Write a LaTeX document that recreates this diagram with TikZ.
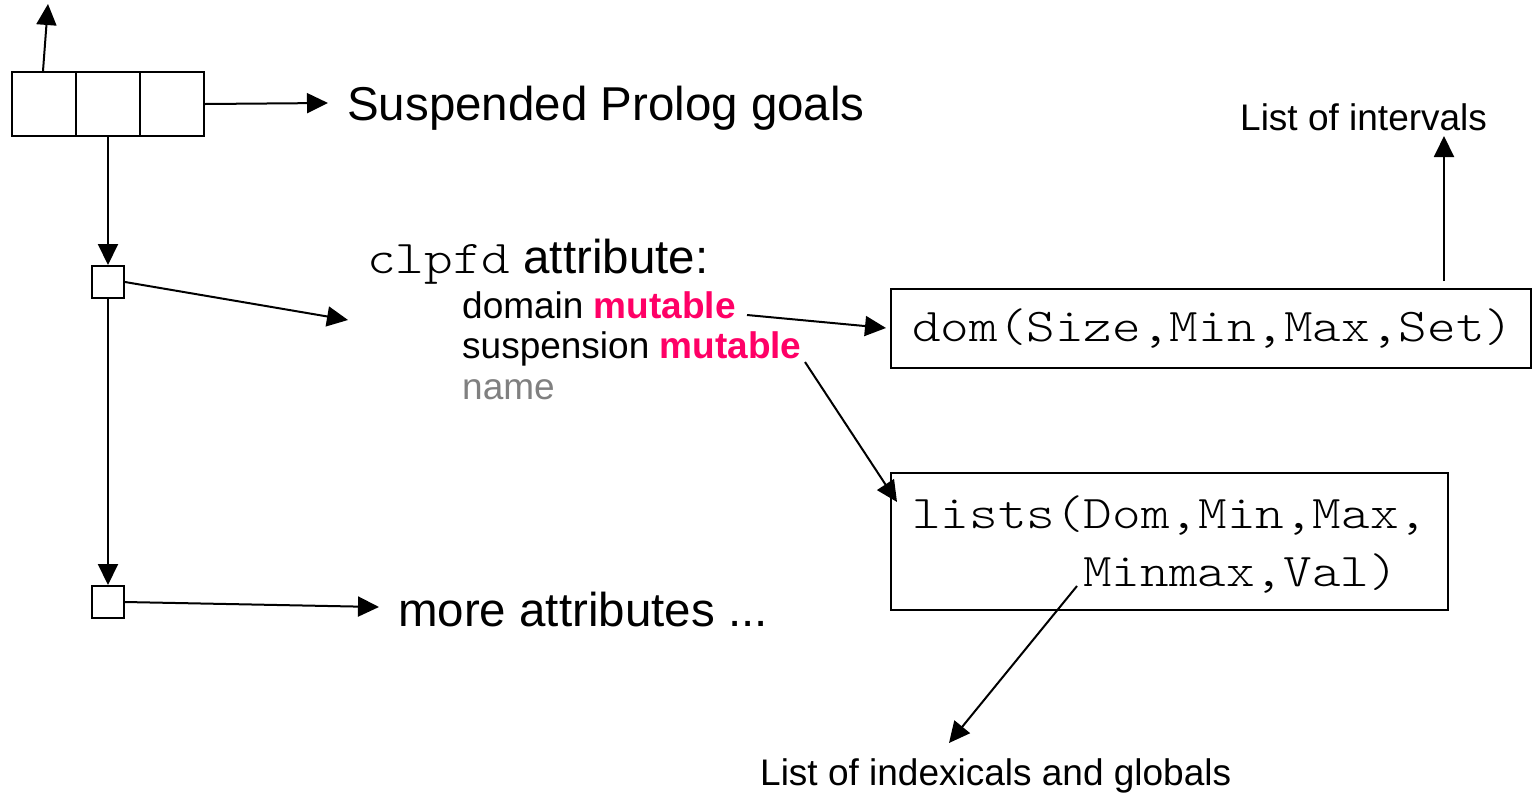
\documentclass[tikz,border=0pt]{standalone}
\usepackage{fontspec}
\setmainfont{Liberation Sans}
\newfontfamily\lightmono{Latin Modern Mono Light}
\usetikzlibrary{arrows.meta}
\definecolor{mut}{HTML}{FF0066}
\definecolor{greytxt}{HTML}{808080}
\newcommand{\cour}[1]{{\fontsize{47}{58}\lightmono\scalebox{1.16}[1]{#1}}}
\tikzset{
  line/.style={line width=2pt},
  arr/.style={line width=2pt,-{Triangle[length=21pt,width=20pt]}},
  cell/.style={draw,line width=2pt,minimum width=64pt,minimum height=64pt,inner sep=0pt,anchor=north west},
  sbox/.style={draw,line width=2pt,minimum width=32pt,minimum height=32pt,inner sep=0pt,anchor=north west},
  frame/.style={draw,line width=2pt,inner sep=0pt,anchor=north west},
  big/.style={inner sep=0pt,anchor=base west,font=\fontsize{47.5}{57}\selectfont},
  small/.style={inner sep=0pt,anchor=base west,font=\fontsize{37}{44}\selectfont},
  mono/.style={inner sep=0pt,anchor=base west},
}
\begin{document}
\begin{tikzpicture}[x=1pt,y=-1pt]
\useasboundingbox (0,0) rectangle (1532,793);
% triple cell
\node[cell] (c1) at (11,71) {};
\node[cell] (c2) at (75,71) {};
\node[cell] (c3) at (139,71) {};
% small boxes
\node[sbox] (b1) at (91,265) {};
\node[sbox] (b2) at (91,585) {};
% frames
\node[frame,minimum width=640pt,minimum height=79pt] (dom) at (890,288) {};
\node[frame,minimum width=557pt,minimum height=137pt] (lists) at (890,472) {};
% texts
\node[big] (susp) at (347,120) {Suspended Prolog goals};
\node[big] (clp) at (367,273) {\cour{clpfd} attribute:};
\node[small] (dmn) at (462,318) {domain \textcolor{mut}{\textbf{mutable}}};
\node[small] (spn) at (462,358) {suspension \textcolor{mut}{\textbf{mutable}}};
\node[small,text=greytxt] (nm) at (462,399) {name};
\node[big] (more) at (398,626) {more attributes ...};
\node[mono] (domtxt) at (912,341) {\cour{dom(Size,Min,Max,Set)}};
\node[mono] (l1) at (912,528) {\cour{lists(Dom,Min,Max,}};
\node[mono] (l2) at (1083,586) {\cour{Minmax,Val)}};
\node[small] (intv) at (1240,130) {List of intervals};
\node[small] (idx) at (760,785) {List of indexicals and globals};
% coordinates
\coordinate (up) at (48,4);
\coordinate (sgin) at (328,103);
\coordinate (atin) at (348,320);
\coordinate (morein) at (379,607);
\coordinate (dmout) at (747,315);
\coordinate (domin) at (886,328);
\coordinate (spout) at (805,362);
\coordinate (lsin) at (897,502);
\coordinate (mmout) at (1077,586);
\coordinate (idxin) at (949,743);
\coordinate (domtop) at (1444,281);
\coordinate (intvin) at (1444,136);
% connectors
\draw[arr] (c1.north) ++(-1,0) -- (up);
\draw[arr] (c3.east) -- (sgin);
\draw[arr] (c2.south) -- (b1.north);
\draw[arr] (b1.south) -- (b2.north);
\draw[arr] (b1.east) -- (atin);
\draw[arr] (b2.east) -- (morein);
\draw[arr] (dmout) -- (domin);
\draw[arr] (spout) -- (lsin);
\draw[arr] (mmout) -- (idxin);
\draw[arr] (domtop) -- (intvin);
\end{tikzpicture}
\end{document}
